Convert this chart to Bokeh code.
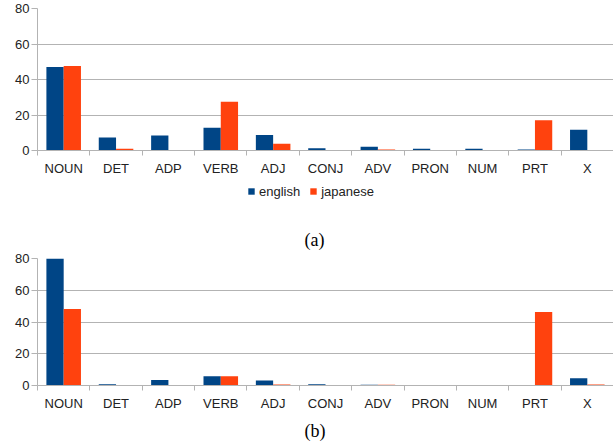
from bokeh.plotting import figure
from bokeh.layouts import column
from bokeh.models import (Range1d, FixedTicker, ColumnDataSource, Legend, LegendItem,
                          Title, LinearAxis, Grid)
from bokeh.transform import dodge
from bokeh.embed import file_html
from bokeh.resources import INLINE

categories = ["NOUN", "DET", "ADP", "VERB", "ADJ", "CONJ", "ADV", "PRON", "NUM", "PRT", "X"]
english_a = [47.0, 7.3, 8.5, 12.8, 8.7, 1.3, 2.1, 1.0, 1.0, 0.5, 11.7]
japanese_a = [47.6, 1.0, 0.0, 27.5, 3.8, 0.0, 0.6, 0.3, 0.0, 17.1, 0.3]
english_b = [80.0, 0.8, 3.4, 5.9, 3.2, 0.8, 0.5, 0.2, 0.1, 0.0, 4.6]
japanese_b = [48.2, 0.2, 0.0, 5.9, 0.6, 0.0, 0.4, 0.2, 0.1, 46.3, 0.7]
y_ticks = [0, 20, 40, 60, 80]
series_names = ["english", "japanese"]
captions = ["(a)", "(b)"]

BLUE = "#004586"
ORANGE = "#ff420e"
GRID = "#b3b3b3"
TEXT = "#222222"
SANS = "Liberation Sans"
SERIF = "Liberation Serif"
W = 613
N = len(categories)
CENTERS = [i + 0.5 for i in range(N)]


def make_source(eng, jap):
    return ColumnDataSource(dict(x=CENTERS, eng=eng, jap=jap))


def add_bars(p, src, visible=True):
    r1 = p.vbar(x=dodge('x', -0.165), top='eng', width=0.33, source=src,
                fill_color=BLUE, line_color=None, visible=visible)
    r2 = p.vbar(x=dodge('x', 0.165), top='jap', width=0.33, source=src,
                fill_color=ORANGE, line_color=None, visible=visible)
    return r1, r2


def make_chart(src, height, border_top, border_bottom):
    p = figure(width=W, height=height, x_range=Range1d(0, N), y_range=Range1d(0, 80),
               output_backend="svg", toolbar_location=None,
               min_border_left=37, min_border_right=0, min_border_top=border_top,
               min_border_bottom=border_bottom,
               outline_line_color=None, x_axis_type=None, y_axis_type=None)
    add_bars(p, src)

    yax = LinearAxis(ticker=FixedTicker(ticks=y_ticks, minor_ticks=[]),
                     axis_line_color=GRID, major_tick_line_color=GRID,
                     major_tick_in=0, major_tick_out=6, minor_tick_line_color=None,
                     major_label_standoff=2, major_label_text_font=SANS,
                     major_label_text_font_size="13px", major_label_text_color=TEXT)
    p.add_layout(yax, "left")
    p.add_layout(Grid(dimension=1, ticker=yax.ticker, grid_line_color=GRID))

    xax = LinearAxis(ticker=FixedTicker(ticks=CENTERS, minor_ticks=list(range(N + 1))),
                     major_label_overrides={c: cat for c, cat in zip(CENTERS, categories)},
                     axis_line_color=GRID, major_tick_line_color=None,
                     major_tick_in=0, major_tick_out=0,
                     minor_tick_in=0, minor_tick_out=5, minor_tick_line_color=GRID,
                     major_label_standoff=5, major_label_text_font=SANS,
                     major_label_text_font_size="13px", major_label_text_color=TEXT)
    p.add_layout(xax, "below")
    return p


def caption_title(text, standoff, offset):
    return Title(text=text, align="left", text_font=SERIF,
                 text_font_size="18px", text_font_style="normal", text_color="#000000",
                 standoff=standoff, offset=offset)


src_a = make_source(english_a, japanese_a)
src_b = make_source(english_b, japanese_b)

# chart (a)
pa = make_chart(src_a, 178, 8, 28)

# legend strip of chart (a)
pl = figure(width=W, height=32, x_range=Range1d(0, N), y_range=Range1d(0, 80),
            output_backend="svg", toolbar_location=None,
            min_border_left=37, min_border_right=0, min_border_top=0, min_border_bottom=0,
            outline_line_color=None, x_axis_type=None, y_axis_type=None)
l1, l2 = add_bars(pl, src_a, visible=False)
leg = Legend(items=[LegendItem(label=series_names[0], renderers=[l1]),
                    LegendItem(label=series_names[1], renderers=[l2])],
             orientation="horizontal", location=(210, 11),
             border_line_color=None, background_fill_alpha=0,
             glyph_width=8, glyph_height=8, label_standoff=4, spacing=9,
             padding=2, margin=0, label_height=16,
             label_text_font=SANS, label_text_font_size="13px",
             label_text_color=TEXT)
pl.add_layout(leg)

# chart (b), with caption (a) above it
pb = make_chart(src_b, 236, 48, 60)
pb.add_layout(caption_title(captions[0], 17, 267), "above")
pb.add_layout(caption_title(captions[1], 11, 267), "below")

layout = column(pa, pl, pb, spacing=0)

open("out.html", "w").write(file_html(layout, INLINE))
